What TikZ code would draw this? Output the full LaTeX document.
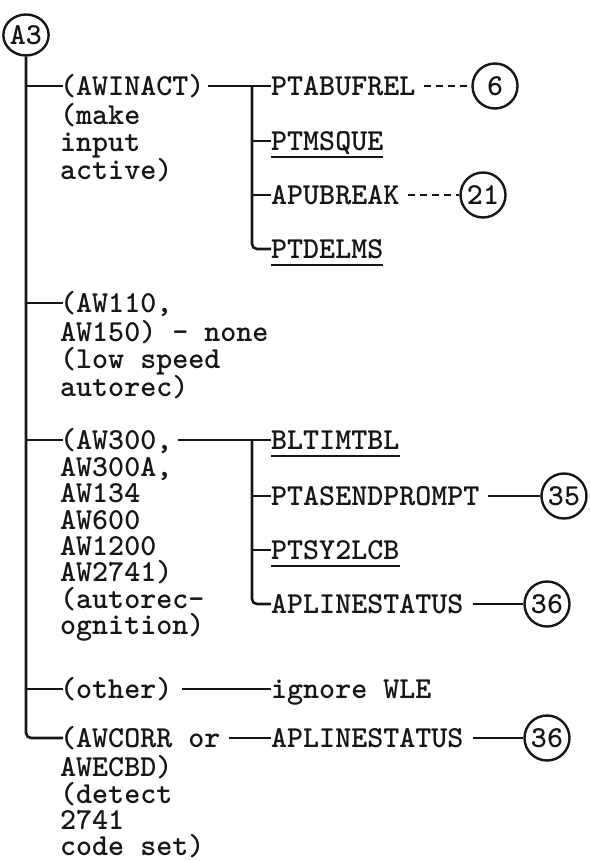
\documentclass[tikz,border=0pt]{standalone}
\usepackage{fontspec}
\usepackage{xcolor}
\usepackage{tikz}
\definecolor{twInk}{HTML}{161616}
\usetikzlibrary{positioning,shapes.geometric}

\begin{document}
\begin{tikzpicture}[x=1pt,y=-1pt,
    every node/.style={inner sep=0pt, text=twInk, font=\ttfamily\bfseries\fontsize{30.5}{26.3}\selectfont},
    casehead/.style={anchor=west, text height=18.6pt, text depth=0pt},
    casenote/.style={align=left, anchor=north west, execute at begin node=\strut},
    refmark/.style={circle, draw=twInk, line width=2.4pt, minimum size=45pt},
    wire/.style={draw=twInk, line width=2.6pt},
    dashwire/.style={wire, dash pattern=on 7pt off 5pt}]
  \useasboundingbox (0,0) rectangle (589,861);

  % entry point
  \node[ellipse, draw=twInk, line width=2.4pt, minimum width=44pt, minimum height=41pt] (a3) at (26,35) {A3};

  % case heads and their notes
  \node[casehead] (awinact) at (60,86) {(AWINACT)};
  \node[below=7.9pt of awinact.south west, casenote] (awinactnote) {(make\\input\\active)};
  \node[casehead] (aw110) at (60,303) {(AW110,};
  \node[below=7.9pt of aw110.south west, casenote] (aw110note) {AW150) - none\\(low speed\\autorec)};
  \node[casehead] (aw300) at (60,440) {(AW300,};
  \node[below=7.9pt of aw300.south west, casenote] (aw300note) {AW300A,\\AW134\\AW600\\AW1200\\AW2741)\\(autorec-\\ognition)};
  \node[casehead] (other) at (60,689) {(other)};
  \node[casehead] (awcorr) at (60,738) {(AWCORR or};
  \node[below=7.9pt of awcorr.south west, casenote] (awcorrnote) {AWECBD)\\(detect\\2741\\code set)};

  % called routines
  \node[casehead] (ptabufrel) at (271,86) {PTABUFREL};
  \node[casehead] (ptmsque) at (271,141) {PTMSQUE};
  \node[casehead] (apubreak) at (271,195) {APUBREAK};
  \node[casehead] (ptdelms) at (271,249) {PTDELMS};
  \node[casehead] (bltimtbl) at (271,440) {BLTIMTBL};
  \node[casehead] (ptasend) at (271,496) {PTASENDPROMPT};
  \node[casehead] (ptsy2lcb) at (271,550) {PTSY2LCB};
  \node[casehead] (aplinestatus) at (271,604) {APLINESTATUS};
  \node[casehead] (ignore) at (271,689) {ignore WLE};
  \node[casehead] (aplinestatusb) at (271,738) {APLINESTATUS};

  % off-page references
  \node[refmark] (r6) at (495,86) {6};
  \node[refmark] (r21) at (483,195) {21};
  \node[refmark] (r35) at (564,496) {35};
  \node[refmark] (r36) at (547,604) {36};
  \node[refmark] (r36b) at (547,738) {36};

  \coordinate (forkA) at (252,86);
  \coordinate (forkB) at (252,440);

  % main trunk
  \draw[wire, rounded corners=5pt] (a3.south) |- ([xshift=3pt]awcorr.west);
  \foreach \n in {awinact,aw110,aw300,other}
    \draw[wire, shorten >=-3pt] (\n.west -| a3.south) -- (\n.west);

  % first fork
  \draw[wire, shorten <=3pt] (awinact.east) -- (ptabufrel.west);
  \draw[wire, rounded corners=5pt] (forkA) |- (ptdelms.west);
  \foreach \n in {ptmsque,apubreak}
    \draw[wire] (\n.west -| forkA) -- (\n.west);
  \draw[dashwire, shorten <=8pt] (ptabufrel.east) -- (r6);
  \draw[dashwire, shorten <=8pt] (apubreak.east) -- (r21);

  % second fork
  \draw[wire, shorten <=6pt] (aw300.east) -- (bltimtbl.west);
  \draw[wire, rounded corners=5pt] (forkB) |- (aplinestatus.west);
  \foreach \n in {ptasend,ptsy2lcb}
    \draw[wire] (\n.west -| forkB) -- (\n.west);
  \draw[wire, shorten <=8pt] (ptasend.east) -- (r35);
  \draw[wire, shorten <=9pt] (aplinestatus.east) -- (r36);

  % remaining cases
  \draw[wire, shorten <=10pt] (other.east) -- (ignore.west);
  \draw[wire, shorten <=8pt] (awcorr.east) -- (aplinestatusb.west);
  \draw[wire, shorten <=9pt] (aplinestatusb.east) -- (r36b);

  % underlined names
  \foreach \n in {ptmsque,ptdelms,bltimtbl,ptsy2lcb}
    \draw[twInk, line width=2pt] ([yshift=-6.5pt]\n.south west) -- ([yshift=-6.5pt]\n.south east);
\end{tikzpicture}
\end{document}
